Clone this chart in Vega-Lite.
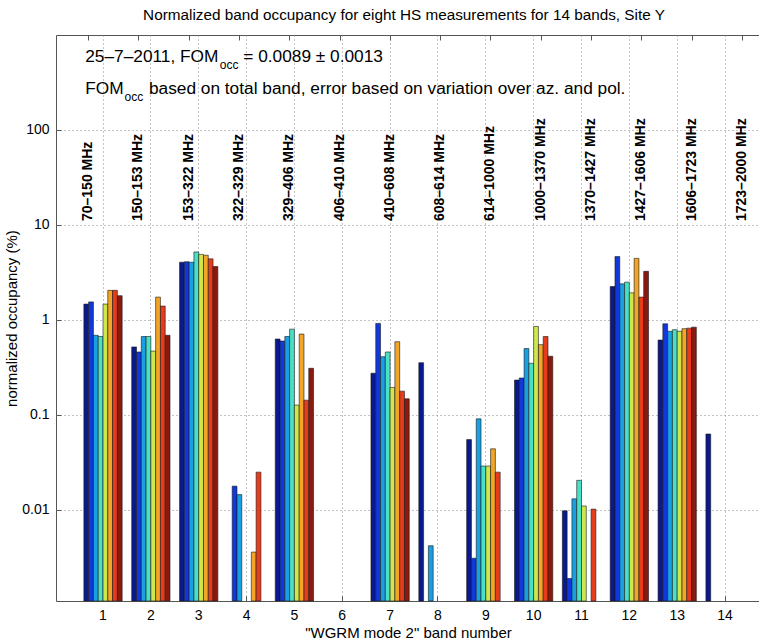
{
  "$schema": "https://vega.github.io/schema/vega-lite/v6.json",
  "width": 704,
  "height": 566,
  "autosize": {"type": "none"},
  "padding": {"left": 56, "top": 35, "right": 0, "bottom": 42},
  "title": {"text": "Normalized band occupancy for eight HS measurements for 14 bands, Site Y", "fontSize": 15.3, "fontWeight": "normal", "color": "#000", "offset": 11, "anchor": "middle", "dx": -4},
  "config": {
    "font": "Liberation Sans",
    "view": {"stroke": "#555", "strokeWidth": 1}
  },
  "datasets": {
    "occ": [
      {"band": 1, "m": 1, "v": 1.47}, {"band": 1, "m": 2, "v": 1.55}, {"band": 1, "m": 3, "v": 0.69}, {"band": 1, "m": 4, "v": 0.67}, {"band": 1, "m": 5, "v": 1.47}, {"band": 1, "m": 6, "v": 2.05}, {"band": 1, "m": 7, "v": 2.05}, {"band": 1, "m": 8, "v": 1.8},
      {"band": 2, "m": 1, "v": 0.52}, {"band": 2, "m": 2, "v": 0.46}, {"band": 2, "m": 3, "v": 0.67}, {"band": 2, "m": 4, "v": 0.67}, {"band": 2, "m": 5, "v": 0.47}, {"band": 2, "m": 6, "v": 1.74}, {"band": 2, "m": 7, "v": 1.4}, {"band": 2, "m": 8, "v": 0.69},
      {"band": 3, "m": 1, "v": 4.05}, {"band": 3, "m": 2, "v": 4.1}, {"band": 3, "m": 3, "v": 4.05}, {"band": 3, "m": 4, "v": 5.2}, {"band": 3, "m": 5, "v": 4.9}, {"band": 3, "m": 6, "v": 4.8}, {"band": 3, "m": 7, "v": 4.4}, {"band": 3, "m": 8, "v": 3.65},
      {"band": 4, "m": 2, "v": 0.0178}, {"band": 4, "m": 3, "v": 0.0145}, {"band": 4, "m": 6, "v": 0.0036}, {"band": 4, "m": 7, "v": 0.025},
      {"band": 5, "m": 1, "v": 0.63}, {"band": 5, "m": 2, "v": 0.6}, {"band": 5, "m": 3, "v": 0.67}, {"band": 5, "m": 4, "v": 0.8}, {"band": 5, "m": 5, "v": 0.127}, {"band": 5, "m": 6, "v": 0.71}, {"band": 5, "m": 7, "v": 0.143}, {"band": 5, "m": 8, "v": 0.31},
      {"band": 7, "m": 1, "v": 0.275}, {"band": 7, "m": 2, "v": 0.92}, {"band": 7, "m": 3, "v": 0.41}, {"band": 7, "m": 4, "v": 0.46}, {"band": 7, "m": 5, "v": 0.195}, {"band": 7, "m": 6, "v": 0.59}, {"band": 7, "m": 7, "v": 0.178}, {"band": 7, "m": 8, "v": 0.148},
      {"band": 8, "m": 1, "v": 0.355}, {"band": 8, "m": 3, "v": 0.0042},
      {"band": 9, "m": 1, "v": 0.055}, {"band": 9, "m": 2, "v": 0.0031}, {"band": 9, "m": 3, "v": 0.091}, {"band": 9, "m": 4, "v": 0.029}, {"band": 9, "m": 5, "v": 0.029}, {"band": 9, "m": 6, "v": 0.044}, {"band": 9, "m": 7, "v": 0.025},
      {"band": 10, "m": 1, "v": 0.233}, {"band": 10, "m": 2, "v": 0.245}, {"band": 10, "m": 3, "v": 0.5}, {"band": 10, "m": 4, "v": 0.35}, {"band": 10, "m": 5, "v": 0.855}, {"band": 10, "m": 6, "v": 0.55}, {"band": 10, "m": 7, "v": 0.67}, {"band": 10, "m": 8, "v": 0.415},
      {"band": 11, "m": 1, "v": 0.0098}, {"band": 11, "m": 2, "v": 0.0019}, {"band": 11, "m": 3, "v": 0.0131}, {"band": 11, "m": 4, "v": 0.0205}, {"band": 11, "m": 5, "v": 0.011}, {"band": 11, "m": 7, "v": 0.0102},
      {"band": 12, "m": 1, "v": 2.25}, {"band": 12, "m": 2, "v": 4.65}, {"band": 12, "m": 3, "v": 2.4}, {"band": 12, "m": 4, "v": 2.5}, {"band": 12, "m": 5, "v": 1.93}, {"band": 12, "m": 6, "v": 4.45}, {"band": 12, "m": 7, "v": 1.74}, {"band": 12, "m": 8, "v": 3.25},
      {"band": 13, "m": 1, "v": 0.615}, {"band": 13, "m": 2, "v": 0.91}, {"band": 13, "m": 3, "v": 0.76}, {"band": 13, "m": 4, "v": 0.79}, {"band": 13, "m": 5, "v": 0.76}, {"band": 13, "m": 6, "v": 0.81}, {"band": 13, "m": 7, "v": 0.82}, {"band": 13, "m": 8, "v": 0.84},
      {"band": 14, "m": 1, "v": 0.063}
    ],
    "labels": [
      {"band": 1, "ly": 11, "label": "70–150 MHz"},
      {"band": 2, "ly": 11, "label": "150–153 MHz"},
      {"band": 3, "ly": 11, "label": "153–322 MHz"},
      {"band": 4, "ly": 11, "label": "322–329 MHz"},
      {"band": 5, "ly": 11, "label": "329–406 MHz"},
      {"band": 6, "ly": 11, "label": "406–410 MHz"},
      {"band": 7, "ly": 11, "label": "410–608 MHz"},
      {"band": 8, "ly": 11, "label": "608–614 MHz"},
      {"band": 9, "ly": 11, "label": "614–1000 MHz"},
      {"band": 10, "ly": 11, "label": "1000–1370 MHz"},
      {"band": 11, "ly": 11, "label": "1370–1427 MHz"},
      {"band": 12, "ly": 11, "label": "1427–1606 MHz"},
      {"band": 13, "ly": 11, "label": "1606–1723 MHz"},
      {"band": 14, "ly": 11, "label": "1723–2000 MHz"}
    ],
    "annMain": [
      {"ax": 0.61, "ay": 520, "t": "25–7–2011, FOM"},
      {"ax": 3.91, "ay": 520, "t": "= 0.0089 ± 0.0013"},
      {"ax": 0.61, "ay": 239, "t": "FOM"},
      {"ax": 1.94, "ay": 239, "t": "based on total band, error based on variation over az. and pol."}
    ],
    "annSub": [
      {"ax": 3.42, "ay": 438, "t": "occ"},
      {"ax": 1.43, "ay": 202, "t": "occ"}
    ]
  },
  "layer": [
    {
      "data": {"name": "occ"},
      "mark": {"type": "bar", "stroke": "#1a1a1a", "strokeWidth": 0.6},
      "encoding": {
        "x": {
          "field": "band", "type": "ordinal",
          "scale": {"domain": [1,2,3,4,5,6,7,8,9,10,11,12,13,14], "paddingInner": 0.2, "paddingOuter": 0.4564, "align": 0.638},
          "axis": {
            "orient": "bottom", "title": "\"WGRM mode 2\" band number", "labelAngle": 0,
            "bandPosition": 0.5, "domain": false,
            "grid": true, "gridDash": [1, 3], "gridColor": "#888", "gridWidth": 1,
            "ticks": true, "tickSize": -5, "tickColor": "#555",
            "labelFontSize": 14, "labelColor": "#000", "labelPadding": 12,
            "titleFontSize": 15, "titleFontWeight": "normal", "titleColor": "#000", "titlePadding": 3
          }
        },
        "xOffset": {"field": "m", "type": "nominal", "scale": {"paddingInner": 0, "paddingOuter": 0}},
        "y": {
          "field": "v", "type": "quantitative",
          "scale": {"type": "log", "domain": [0.0011, 1000], "nice": false},
          "axis": {
            "values": [0.01, 0.1, 1, 10, 100], "format": "~g", "domain": false,
            "grid": true, "gridDash": [1, 3], "gridColor": "#888", "gridWidth": 1,
            "ticks": true, "tickSize": -5, "tickColor": "#555",
            "labelFontSize": 14, "labelColor": "#000", "labelPadding": 12,
            "title": "normalized occupancy (%)", "titleFontSize": 15, "titleFontWeight": "normal", "titleColor": "#000", "titlePadding": 2
          }
        },
        "y2": {"datum": 0.0011},
        "color": {
          "field": "m", "type": "nominal", "legend": null,
          "scale": {"range": ["#0a1a8c", "#1038dc", "#18a0e2", "#48e0c6", "#cce84c", "#f2a526", "#e63c1c", "#8a1a10"]}
        }
      }
    },
    {
      "data": {"name": "labels"},
      "mark": {"type": "text", "angle": 270, "align": "left", "baseline": "middle", "fontWeight": "bold", "fontSize": 14, "color": "#000"},
      "encoding": {
        "x": {
          "field": "band", "type": "ordinal",
          "scale": {"domain": [1,2,3,4,5,6,7,8,9,10,11,12,13,14], "paddingInner": 0.2, "paddingOuter": 0.4564, "align": 0.638},
          "axis": {"orient": "top", "labels": false, "title": null, "domain": false, "grid": false, "bandPosition": 0.5, "ticks": true, "tickSize": -5, "tickColor": "#555"}
        },
        "y": {"field": "ly", "type": "quantitative", "axis": null},
        "text": {"field": "label"}
      }
    },
    {
      "data": {"name": "annMain"},
      "mark": {"type": "text", "align": "left", "baseline": "alphabetic", "fontSize": 17.3, "color": "#000"},
      "encoding": {
        "x": {"field": "ax", "type": "quantitative", "scale": {"domain": [0, 14.7], "nice": false, "zero": false}, "axis": null},
        "y": {"field": "ay", "type": "quantitative", "axis": null},
        "text": {"field": "t"}
      }
    },
    {
      "data": {"name": "annSub"},
      "mark": {"type": "text", "align": "left", "baseline": "alphabetic", "fontSize": 12, "color": "#000"},
      "encoding": {
        "x": {"field": "ax", "type": "quantitative", "scale": {"domain": [0, 14.7], "nice": false, "zero": false}, "axis": null},
        "y": {"field": "ay", "type": "quantitative", "axis": null},
        "text": {"field": "t"}
      }
    }
  ],
  "resolve": {"scale": {"x": "independent", "xOffset": "independent"}, "axis": {"x": "independent", "y": "independent"}}
}
